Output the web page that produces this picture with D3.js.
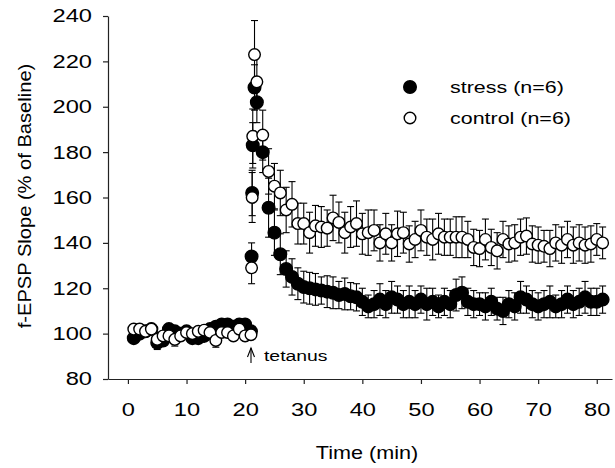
<!DOCTYPE html>
<html>
<head>
<meta charset="utf-8">
<script src="https://cdn.jsdelivr.net/npm/d3@7"></script>
<style>
  body { margin: 0; background: #fff; }
  text { font-family: "Liberation Sans", Arial, sans-serif; fill: #000; }
</style>
</head>
<body>
<div id="chart"></div>
<script>
// time points (min): baseline every minute, then dense sampling right after tetanus
var time = [1, 2, 3, 4, 5, 6, 7, 8, 9, 10, 11, 12, 13, 14, 15, 16, 17, 18, 19, 20, 21,
    21.1, 21.2, 21.3, 21.6, 22,
    23, 24, 25, 26, 27, 28, 29, 30, 31, 32, 33, 34, 35, 36, 37, 38, 39, 40, 41, 42,
    43, 44, 45, 46, 47, 48, 49, 50, 51, 52, 53, 54, 55, 56, 57, 58, 59, 60, 61, 62,
    63, 64, 65, 66, 67, 68, 69, 70, 71, 72, 73, 74, 75, 76, 77, 78, 79, 80, 81];

var stress = [98, 100, 101, 102, 96, 97, 102, 101, 100, 101, 98, 98, 99, 102, 103, 104, 104, 103, 104, 104, 101,
    134, 162, 183, 208.5, 202,
    180, 155.5, 144.5, 135, 128.5, 125, 122, 120.5, 120, 119.5, 119, 118.5, 118, 117, 117.5, 116.5, 116, 114, 112, 113,
    115, 113, 116, 115, 113, 114, 113, 115, 113, 114, 112, 114, 113, 117, 118, 114, 113, 113, 112, 114,
    111, 110, 113, 112, 116, 115, 113, 112, 113, 114, 112, 113, 115, 113, 114, 116, 114, 114, 115];

var stressErr = [2, 2, 2, 2, 3, 2, 2, 2, 2, 2, 2, 2, 2, 2, 2, 2, 2, 2, 2, 2, 2,
    6, 10, 10, 10, 9,
    9, 13, 10, 9, 8, 8, 7, 7, 7, 7, 6, 7, 7, 6, 7, 6, 6, 6, 5, 6,
    7, 6, 7, 6, 6, 7, 6, 6, 7, 6, 5, 6, 6, 7, 7, 6, 6, 5, 6, 6,
    5, 6, 6, 6, 7, 6, 6, 6, 6, 7, 5, 6, 6, 6, 6, 7, 6, 6, 6];

var control = [102, 102, 101, 102, 97.5, 99, 99, 97.5, 99, 100.5, 100, 101, 101.5, 100.5, 97, 100.5, 100.5, 99, 102, 99, 99.5,
    129, 160, 187, 223, 211,
    187.5, 171.5, 165, 162, 154.5, 157, 148.5, 148.5, 144.5, 147.5, 147, 146.5, 151, 149, 144.5, 147, 148.5, 144, 144.5, 145.5,
    140, 144, 140, 144, 144.5, 139.5, 141.5, 145.5, 142.5, 141.5, 144, 142.5, 142.5, 142.5, 142.5, 141.5, 138, 137.5, 141.5, 138,
    136.5, 141.5, 139.5, 140, 142.5, 143, 139.5, 139, 138.5, 137.5, 140, 139, 141.5, 139, 140, 139, 139.5, 141.5, 140];

var controlErr = [2, 2, 2, 2, 3, 2, 2, 3, 2, 2, 2, 2, 2, 2, 3, 2, 2, 2, 2, 2, 2,
    7, 11, 12, 15, 12,
    11, 10, 10, 10, 10, 10, 9, 9, 9, 9, 9, 8, 10, 9, 9, 9, 10, 9, 10, 9,
    8, 9, 8, 10, 9, 8, 8, 9, 8, 9, 9, 8, 8, 9, 9, 8, 8, 8, 9, 8,
    8, 8, 8, 8, 8, 8, 8, 8, 7, 8, 8, 8, 8, 8, 8, 8, 8, 7, 7];

var xTicks = [0, 10, 20, 30, 40, 50, 60, 70, 80];
var yTicks = [80, 100, 120, 140, 160, 180, 200, 220, 240];
var legendLabels = ["stress (n=6)", "control (n=6)"];

var W = 615, H = 468;

var svg = d3.select("#chart")
  .append("svg")
    .attr("width", W)
    .attr("height", H);

var x = d3.scaleLinear().domain([-3.4, 82.6]).range([108, 612]);
var y = d3.scaleLinear().domain([80, 240]).range([379, 16]);

// stretch text horizontally (the scanned figure uses a wide face)
function stretch(sel, sx) {
  sel.each(function() {
    var t = d3.select(this);
    var tx = +t.attr("x") || 0, ty = +t.attr("y") || 0;
    t.attr("x", 0).attr("y", 0)
     .attr("transform", "translate(" + tx + "," + ty + ") scale(" + sx + ",1)");
  });
}

// axes
var xAxis = svg.append("g")
  .attr("transform", "translate(0," + y(80) + ")")
  .call(d3.axisBottom(x).tickValues(xTicks).tickSize(5).tickSizeOuter(0).tickPadding(19));

var yAxis = svg.append("g")
  .attr("transform", "translate(" + x.range()[0] + ",0)")
  .call(d3.axisLeft(y).tickValues(yTicks).tickSize(5).tickSizeOuter(0).tickPadding(11));

[xAxis, yAxis].forEach(function(a) {
  a.selectAll("path, line").attr("stroke", "#222").attr("stroke-width", 1.2);
  a.selectAll("text").style("font-size", "18.5px").style("font-family", null);
  stretch(a.selectAll("text"), 1.28);
});

// axis titles
svg.append("text")
  .attr("text-anchor", "middle")
  .attr("transform", "translate(367,459) scale(1.2,1)")
  .style("font-size", "18px")
  .text("Time (min)");

svg.append("text")
  .attr("text-anchor", "middle")
  .attr("transform", "translate(31,196) rotate(-90) scale(1.15,1)")
  .style("font-size", "17.5px")
  .text("f-EPSP Slope (% of Baseline)");

// data rows
var rows = time.map(function(t, i) {
  return {t: t, s: stress[i], se: stressErr[i], c: control[i], ce: controlErr[i]};
});

function drawSeries(key, errKey, fill) {
  var g = svg.append("g");
  var bars = g.selectAll(".eb-" + key)
    .data(rows)
    .enter().append("g")
      .attr("stroke", "#000")
      .attr("stroke-width", 1.1);
  bars.append("line")
    .attr("x1", function(d) { return x(d.t); })
    .attr("x2", function(d) { return x(d.t); })
    .attr("y1", function(d) { return y(d[key] + d[errKey]); })
    .attr("y2", function(d) { return y(d[key] - d[errKey]); });
  bars.append("line")
    .attr("x1", function(d) { return x(d.t) - 3.5; })
    .attr("x2", function(d) { return x(d.t) + 3.5; })
    .attr("y1", function(d) { return y(d[key] + d[errKey]); })
    .attr("y2", function(d) { return y(d[key] + d[errKey]); });
  bars.append("line")
    .attr("x1", function(d) { return x(d.t) - 3.5; })
    .attr("x2", function(d) { return x(d.t) + 3.5; })
    .attr("y1", function(d) { return y(d[key] - d[errKey]); })
    .attr("y2", function(d) { return y(d[key] - d[errKey]); });

  g.selectAll("circle")
    .data(rows)
    .enter().append("circle")
      .attr("cx", function(d) { return x(d.t); })
      .attr("cy", function(d) { return y(d[key]); })
      .attr("r", fill === "#000" ? 6.3 : 5.8)
      .attr("fill", fill)
      .attr("stroke", "#000")
      .attr("stroke-width", 1.4);
}

drawSeries("s", "se", "#000");
drawSeries("c", "ce", "#fff");

// tetanus marker
var tx = x(21);
var arrow = svg.append("g").attr("stroke", "#000").attr("stroke-width", 1.1).attr("fill", "none");
arrow.append("line").attr("x1", tx).attr("x2", tx).attr("y1", 348).attr("y2", 363);
arrow.append("path").attr("d", "M" + (tx - 3.5) + ",357 L" + tx + ",348 L" + (tx + 3.5) + ",357");

var tet = svg.append("text")
  .attr("x", tx + 13)
  .attr("y", 361)
  .style("font-size", "15.5px")
  .text("tetanus");
stretch(tet, 1.25);

// legend
var legend = svg.append("g");
legendLabels.forEach(function(lbl, i) {
  legend.append("circle")
    .attr("cx", 410)
    .attr("cy", 87 + i * 31)
    .attr("r", i === 0 ? 6.3 : 5.8)
    .attr("fill", i === 0 ? "#000" : "#fff")
    .attr("stroke", "#000")
    .attr("stroke-width", 1.4);
  var t = legend.append("text")
    .attr("x", 450)
    .attr("y", 93 + i * 31)
    .style("font-size", "16.5px")
    .text(lbl);
  stretch(t, 1.3);
});
</script>
</body>
</html>
